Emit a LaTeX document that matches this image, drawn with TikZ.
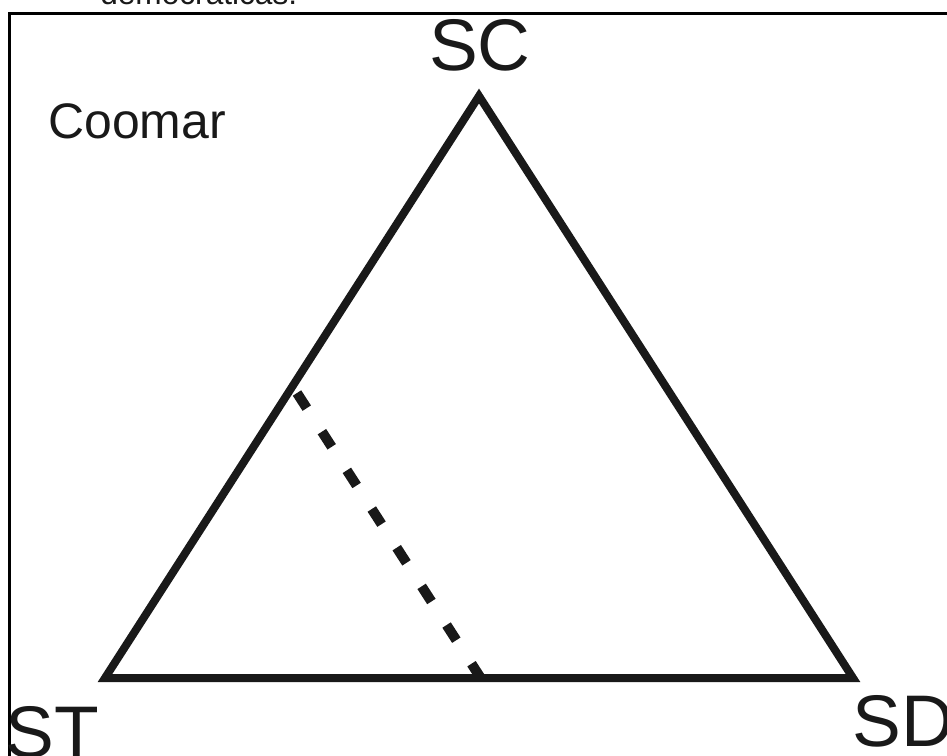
\documentclass[tikz,border=0pt]{standalone}
\usepackage{fontspec}
\setmainfont{Liberation Sans}
\usetikzlibrary{positioning}

\begin{document}
\begin{tikzpicture}[
    x=0.025cm, y=-0.025cm,
    edge/.style={line width=0.2cm, draw=black!90, line join=miter},
    split/.style={line width=0.25cm, draw=black!90, dash pattern=on 0.45cm off 0.7cm},
    corner/.style={font=\fontsize{52}{60}\selectfont, text=black!90, inner sep=0pt},
    tag/.style={font=\fontsize{35.5}{42}\selectfont, text=black!90, inner sep=0pt}
]
    \useasboundingbox (0,0) rectangle (947,756);

    % frame (runs off the page to the right and below)
    \draw[line width=0.075cm, black] (9.5,13.5) rectangle (980,790);

    % caption cut by the page edge
    \node[font=\fontsize{22.5}{27}\selectfont, text=black!90, inner sep=0pt, anchor=base west] (caption) at (100,4) {democráticas.};

    % vertices of the triangle
    \coordinate (sc) at (479,96);
    \coordinate (st) at (105,678);
    \coordinate (sd) at (853,678);

    % dashed split from the left side down to the base
    \coordinate (cutA) at (297,393);
    \coordinate (cutB) at (482,680);

    \draw[edge] (st) -- (sc) -- (sd) -- cycle;
    \draw[split] (cutA) -- (cutB);

    % labels
    \node[corner, anchor=base] (scl) at (480,70) {SC};
    \node[corner, anchor=base west] (stl) at (5,757) {ST};
    \node[corner, anchor=base west] (sdl) at (852,746) {SD};
    \node[tag, anchor=base west] (name) at (48,138) {Coomar};
\end{tikzpicture}
\end{document}
